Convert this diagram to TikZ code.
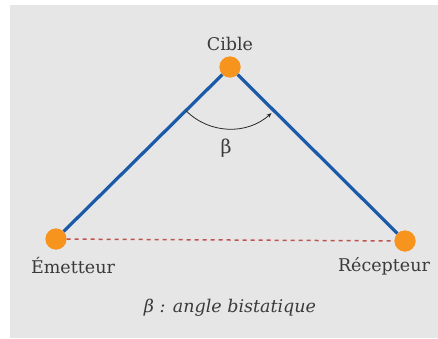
\documentclass[tikz,border=0pt]{standalone}
\usepackage{fontspec}
\setmainfont{DejaVu Serif}
\usetikzlibrary{arrows.meta}
\definecolor{bggray}{HTML}{E6E6E6}
\definecolor{legblue}{HTML}{1A5AA8}
\definecolor{dotorange}{HTML}{F7941D}
\definecolor{basered}{HTML}{C0504D}
\definecolor{txtgray}{HTML}{3A3A3A}

\begin{document}
\begin{tikzpicture}[x=1pt, y=1pt,
  site/.style={circle, fill=dotorange, inner sep=0pt, minimum size=21pt},
  leg/.style={draw=legblue, line width=3.2pt},
  base/.style={draw=basered, line width=1.5pt, dash pattern=on 4pt off 4pt},
  lab/.style={font=\fontsize{17.5}{20}\selectfont, text=txtgray},
  capt/.style={font=\fontsize{17.5}{20}\selectfont\itshape, text=txtgray},
  >={Stealth[length=5pt, width=4pt]},
]

% Background
\useasboundingbox (0,0) rectangle (438,338);
\fill[bggray] (10,0) rectangle (438,333);

\node[site] (cible) at (230,271) {};
\node[site] (emetteur) at (56,99) {};
\node[site] (recepteur) at (405,97) {};

\draw[leg] (emetteur) -- (cible);
\draw[leg] (cible) -- (recepteur);
\draw[base] (emetteur) -- (recepteur);

% redraw dots on top
\fill[dotorange] (cible) circle (10.5);
\fill[dotorange] (emetteur) circle (10.5);
\fill[dotorange] (recepteur) circle (10.5);

\node[lab] (ciblelab) at (230,294) {Cible};
\node[lab] (emetteurlab) at (73,72) {Émetteur};
\node[lab] (recepteurlab) at (384,72) {Récepteur};

% bistatic angle
\draw[->, black!85, line width=0.8pt]
  ([shift={(225:62)}]cible.center) arc[start angle=225, end angle=312, radius=62];
\node[lab, font=\fontsize{19}{22}\selectfont] (beta) at (226,190) {β};

\node[capt] (legend) at (230,30) {β : angle bistatique};
\end{tikzpicture}
\end{document}
